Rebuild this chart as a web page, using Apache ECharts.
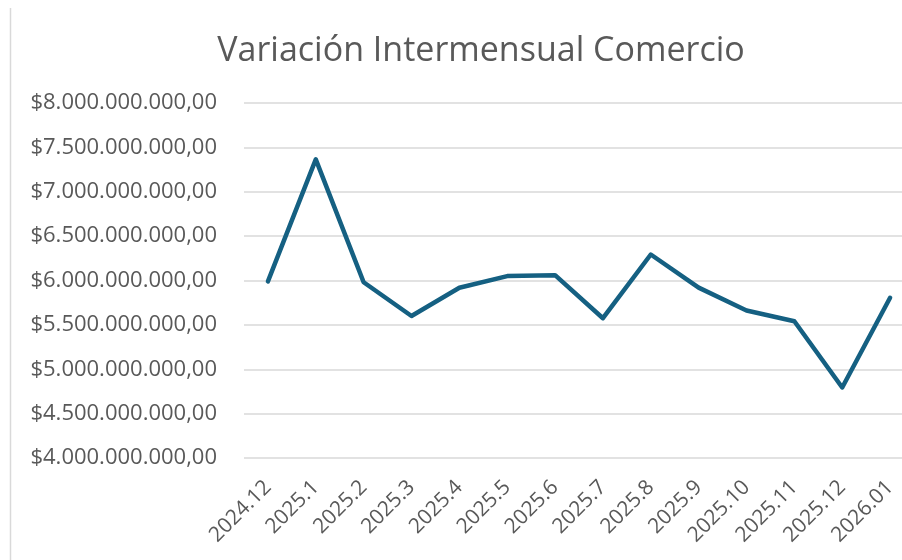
<!DOCTYPE html>
<html>
<head>
<meta charset="utf-8">
<script src="https://cdn.jsdelivr.net/npm/echarts@6/dist/echarts.min.js"></script>
<style>html,body{margin:0;padding:0;background:#fff}#c{width:902px;height:560px}</style>
</head>
<body>
<div id="c"></div>
<script>
const categories = ["2024.12","2025.1","2025.2","2025.3","2025.4","2025.5","2025.6","2025.7","2025.8","2025.9","2025.10","2025.11","2025.12","2026.01"];
const values = [5990000000,7365000000,5980000000,5600000000,5918000000,6050000000,6060000000,5575000000,6293000000,5920000000,5662000000,5541000000,4795000000,5805000000];
const yTicks = { min: 4000000000, max: 8000000000, step: 500000000 };
const titleText = "Variación Intermensual Comercio";

function fmt(v){
  const s = Math.round(v).toString().replace(/\B(?=(\d{3})+(?!\d))/g, ".");
  return "$" + s + ",00";
}
const chart = echarts.init(document.getElementById('c'));
chart.setOption({
  backgroundColor:'#fff',
  animation:false,
  title:{text:titleText,left:476,textAlign:'center',top:29,
    textStyle:{fontFamily:'Open Sans',fontSize:34,fontWeight:'normal',color:'#595959'}},
  graphic:[{type:'line',shape:{x1:10.5,y1:8,x2:10.5,y2:560},style:{stroke:'#d9d9d9',lineWidth:1.5}}],
  grid:{left:244,top:103,width:670,height:355,containLabel:false,outerBoundsMode:'none'},
  xAxis:{type:'category',data:categories,boundaryGap:true,
    axisLine:{show:false},axisTick:{show:false},
    axisLabel:{rotate:45,margin:26,fontFamily:'Open Sans',fontSize:21,color:'#595959',interval:0}},
  yAxis:{type:'value',min:yTicks.min,max:yTicks.max,interval:yTicks.step,
    axisLine:{show:false},axisTick:{show:false},
    splitLine:{lineStyle:{color:'#d9d9d9',width:1.5}},
    axisLabel:{formatter:fmt,margin:27,fontFamily:'Open Sans',fontSize:22,color:'#595959'}},
  series:[{type:'line',data:values,symbol:'none',
    lineStyle:{color:'#156082',width:4.5,cap:'round',join:'round'}}]
});
</script>
</body>
</html>
